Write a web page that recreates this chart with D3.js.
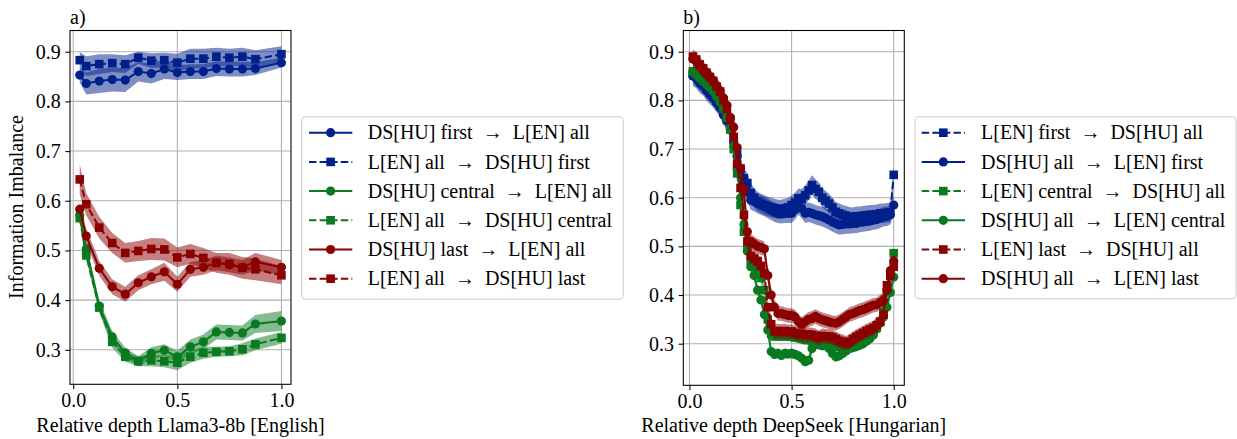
<!DOCTYPE html>
<html>
<head>
<meta charset="utf-8">
<script src="https://cdn.jsdelivr.net/npm/d3@7"></script>
<style>
  body { margin: 0; background: #fff; }
  text { font-family: "Liberation Serif", "Times New Roman", serif; fill: #000; }
</style>
</head>
<body>
<svg id="chart" width="1237" height="439"></svg>
<script>
// ---- data: panel a (Llama3-8b, English) ----
const layersA = [1, 2, 4, 6, 8, 10, 12, 14, 16, 18, 20, 22, 24, 26, 28, 32];
const nLayersA = 32;

const aBlueCirc = [0.853, 0.836, 0.841, 0.844, 0.843, 0.860, 0.856, 0.865, 0.858, 0.860, 0.860, 0.866, 0.865, 0.865, 0.866, 0.878];
const aBlueCircSd = [0.015, 0.022, 0.024, 0.024, 0.024, 0.02, 0.02, 0.02, 0.015, 0.015, 0.015, 0.015, 0.015, 0.015, 0.013, 0.01];
const aBlueSq = [0.883, 0.871, 0.875, 0.877, 0.875, 0.888, 0.882, 0.883, 0.878, 0.886, 0.886, 0.890, 0.888, 0.890, 0.885, 0.895];
const aBlueSqSd = [0.016, 0.02, 0.02, 0.018, 0.018, 0.012, 0.015, 0.015, 0.018, 0.02, 0.02, 0.018, 0.018, 0.018, 0.018, 0.016];
const aGreenCirc = [0.571, 0.503, 0.388, 0.326, 0.294, 0.277, 0.293, 0.299, 0.286, 0.306, 0.316, 0.336, 0.335, 0.334, 0.352, 0.358];
const aGreenCircSd = [0.01, 0.01, 0.012, 0.012, 0.01, 0.01, 0.012, 0.012, 0.012, 0.015, 0.015, 0.015, 0.015, 0.015, 0.018, 0.02];
const aGreenSq = [0.565, 0.490, 0.385, 0.316, 0.286, 0.277, 0.279, 0.277, 0.274, 0.286, 0.294, 0.296, 0.297, 0.301, 0.311, 0.324];
const aGreenSqSd = [0.01, 0.01, 0.01, 0.012, 0.01, 0.01, 0.012, 0.012, 0.015, 0.012, 0.012, 0.01, 0.01, 0.012, 0.012, 0.012];
const aRedCirc = [0.583, 0.529, 0.464, 0.427, 0.412, 0.435, 0.447, 0.457, 0.432, 0.462, 0.466, 0.475, 0.471, 0.466, 0.477, 0.466];
const aRedCircSd = [0.01, 0.015, 0.015, 0.015, 0.015, 0.015, 0.015, 0.018, 0.015, 0.015, 0.015, 0.015, 0.015, 0.015, 0.018, 0.015];
const aRedSq = [0.643, 0.593, 0.546, 0.515, 0.495, 0.499, 0.503, 0.502, 0.486, 0.493, 0.485, 0.475, 0.473, 0.465, 0.462, 0.450];
const aRedSqSd = [0.03, 0.022, 0.022, 0.02, 0.02, 0.02, 0.022, 0.022, 0.02, 0.02, 0.02, 0.02, 0.022, 0.022, 0.022, 0.018];

// ---- data: panel b (DeepSeek, Hungarian), layers 1..60 ----
const nLayersB = 60;
const bBlueSq = [0.855, 0.850, 0.840, 0.835, 0.825, 0.818, 0.808, 0.800, 0.790, 0.775,
  0.760, 0.745, 0.718, 0.690, 0.660, 0.640, 0.630, 0.610, 0.600, 0.592,
  0.588, 0.585, 0.582, 0.580, 0.578, 0.576, 0.576, 0.578, 0.580, 0.585,
  0.590, 0.599, 0.598, 0.605, 0.615, 0.626, 0.618, 0.612, 0.600, 0.594,
  0.588, 0.580, 0.571, 0.568, 0.565, 0.563, 0.561, 0.560, 0.562, 0.562,
  0.563, 0.564, 0.565, 0.565, 0.566, 0.568, 0.568, 0.569, 0.570, 0.647];
const bBlueCirc = [0.850, 0.845, 0.835, 0.830, 0.820, 0.812, 0.805, 0.795, 0.785, 0.770,
  0.758, 0.740, 0.715, 0.685, 0.655, 0.630, 0.612, 0.595, 0.592, 0.588,
  0.585, 0.582, 0.578, 0.574, 0.570, 0.568, 0.567, 0.568, 0.568, 0.568,
  0.575, 0.585, 0.578, 0.568, 0.570, 0.568, 0.565, 0.563, 0.561, 0.558,
  0.554, 0.550, 0.547, 0.544, 0.545, 0.546, 0.546, 0.547, 0.547, 0.549,
  0.550, 0.551, 0.552, 0.554, 0.555, 0.558, 0.561, 0.562, 0.565, 0.585];
const bGreenSq = [0.860, 0.858, 0.850, 0.845, 0.838, 0.832, 0.822, 0.812, 0.800, 0.785,
  0.765, 0.740, 0.700, 0.650, 0.585, 0.530, 0.500, 0.470, 0.460, 0.450,
  0.435, 0.410, 0.350, 0.320, 0.315, 0.316, 0.315, 0.316, 0.315, 0.315,
  0.313, 0.312, 0.310, 0.308, 0.308, 0.306, 0.305, 0.303, 0.303, 0.303,
  0.302, 0.300, 0.296, 0.294, 0.292, 0.292, 0.292, 0.298, 0.303, 0.308,
  0.312, 0.316, 0.320, 0.325, 0.333, 0.345, 0.365, 0.405, 0.445, 0.486];
const bGreenCirc = [0.858, 0.852, 0.845, 0.840, 0.832, 0.826, 0.818, 0.808, 0.796, 0.782,
  0.765, 0.742, 0.705, 0.660, 0.600, 0.545, 0.490, 0.458, 0.440, 0.410,
  0.390, 0.360, 0.328, 0.284, 0.278, 0.280, 0.276, 0.280, 0.279, 0.280,
  0.278, 0.275, 0.270, 0.263, 0.266, 0.290, 0.300, 0.298, 0.296, 0.297,
  0.290, 0.280, 0.273, 0.275, 0.280, 0.285, 0.290, 0.292, 0.294, 0.297,
  0.300, 0.305, 0.310, 0.318, 0.330, 0.342, 0.355, 0.375, 0.405, 0.437];
const bRedSq = [0.890, 0.884, 0.874, 0.866, 0.857, 0.848, 0.840, 0.828, 0.818, 0.800,
  0.782, 0.760, 0.725, 0.670, 0.620, 0.565, 0.510, 0.480, 0.475, 0.470,
  0.460, 0.445, 0.375, 0.340, 0.325, 0.326, 0.325, 0.326, 0.324, 0.325,
  0.322, 0.320, 0.320, 0.318, 0.319, 0.318, 0.316, 0.312, 0.316, 0.315,
  0.315, 0.313, 0.310, 0.306, 0.304, 0.301, 0.304, 0.310, 0.314, 0.318,
  0.322, 0.326, 0.329, 0.332, 0.338, 0.345, 0.360, 0.420, 0.440, 0.458];
const bRedCirc = [0.885, 0.880, 0.870, 0.862, 0.855, 0.848, 0.840, 0.830, 0.820, 0.805,
  0.790, 0.765, 0.745, 0.703, 0.660, 0.615, 0.530, 0.510, 0.505, 0.500,
  0.498, 0.495, 0.440, 0.400, 0.375, 0.362, 0.362, 0.360, 0.358, 0.358,
  0.355, 0.345, 0.340, 0.345, 0.350, 0.352, 0.356, 0.352, 0.349, 0.347,
  0.345, 0.343, 0.342, 0.345, 0.350, 0.355, 0.360, 0.362, 0.365, 0.368,
  0.370, 0.373, 0.376, 0.379, 0.380, 0.385, 0.390, 0.410, 0.450, 0.470];
const bBlueSd = 0.02, bGreenSd = 0.01, bRedSd = 0.015;

const yTicks = [0.3, 0.4, 0.5, 0.6, 0.7, 0.8, 0.9];
const xTicks = [0.0, 0.5, 1.0];

const BLUE = "#00208c", GREEN = "#0a7a20", RED = "#8b0000";
const ARROW = "\u2002\u2192\u2002";

const depthA = layersA.map(l => l / nLayersA);
const depthB = d3.range(1, nLayersB + 1).map(l => l / nLayersB);

function series(from, to, xs, ys, sd, color, marker, dashed) {
  const sds = Array.isArray(sd) ? sd : ys.map(() => sd);
  return { label: from + ARROW + to, color, marker, dashed,
    pts: xs.map((x, i) => ({ x, y: ys[i], sd: sds[i] })) };
}

const panelA = {
  tag: "a)", xlabel: "Relative depth Llama3-8b [English]",
  left: 70, right: 291, top: 30.5, bottom: 384.3,
  xdom: [-0.0155, 1.046], ydom: [0.2306, 0.9427],
  legend: { x: 301.7, y: 116.7, w: 321.6, h: 182.6, hx: 309, tx: 367.7 },
  series: [
    series("DS[HU] first", "L[EN] all", depthA, aBlueCirc, aBlueCircSd, BLUE, "circle", false),
    series("L[EN] all", "DS[HU] first", depthA, aBlueSq, aBlueSqSd, BLUE, "square", true),
    series("DS[HU] central", "L[EN] all", depthA, aGreenCirc, aGreenCircSd, GREEN, "circle", false),
    series("L[EN] all", "DS[HU] central", depthA, aGreenSq, aGreenSqSd, GREEN, "square", true),
    series("DS[HU] last", "L[EN] all", depthA, aRedCirc, aRedCircSd, RED, "circle", false),
    series("L[EN] all", "DS[HU] last", depthA, aRedSq, aRedSqSd, RED, "square", true)
  ]
};

const panelB = {
  tag: "b)", xlabel: "Relative depth DeepSeek [Hungarian]",
  left: 683.3, right: 904.3, top: 30.5, bottom: 385.3,
  xdom: [-0.0303, 1.0518], ydom: [0.2145, 0.9436],
  legend: { x: 915, y: 116.7, w: 321, h: 182, hx: 921.7, tx: 981 },
  series: [
    series("L[EN] first", "DS[HU] all", depthB, bBlueSq, bBlueSd, BLUE, "square", true),
    series("DS[HU] all", "L[EN] first", depthB, bBlueCirc, bBlueSd, BLUE, "circle", false),
    series("L[EN] central", "DS[HU] all", depthB, bGreenSq, bGreenSd, GREEN, "square", true),
    series("DS[HU] all", "L[EN] central", depthB, bGreenCirc, bGreenSd, GREEN, "circle", false),
    series("L[EN] last", "DS[HU] all", depthB, bRedSq, bRedSd, RED, "square", true),
    series("DS[HU] all", "L[EN] last", depthB, bRedCirc, bRedSd, RED, "circle", false)
  ]
};

const svg = d3.select("#chart");
const FS = 20;

function drawMarker(g, kind, x, y, color) {
  if (kind === "circle") {
    g.append("circle").attr("cx", x).attr("cy", y).attr("r", 4.6).attr("fill", color);
  } else {
    g.append("rect").attr("x", x - 4.3).attr("y", y - 4.3)
      .attr("width", 8.6).attr("height", 8.6).attr("fill", color);
  }
}

function drawPanel(p, idx) {
  const x = d3.scaleLinear().domain(p.xdom).range([p.left, p.right]);
  const y = d3.scaleLinear().domain(p.ydom).range([p.bottom, p.top]);

  const clipId = "clip" + idx;
  svg.append("clipPath").attr("id", clipId)
    .append("rect").attr("x", p.left).attr("y", p.top)
    .attr("width", p.right - p.left).attr("height", p.bottom - p.top);

  // grid
  const grid = svg.append("g").attr("stroke", "#b0b0b0").attr("stroke-width", 1.07);
  grid.selectAll(".gx").data(xTicks).join("line")
    .attr("x1", d => x(d)).attr("x2", d => x(d)).attr("y1", p.top).attr("y2", p.bottom);
  grid.selectAll(".gy").data(yTicks).join("line")
    .attr("x1", p.left).attr("x2", p.right).attr("y1", d => y(d)).attr("y2", d => y(d));

  const plot = svg.append("g").attr("clip-path", `url(#${clipId})`);
  const line = d3.line().x(d => x(d.x)).y(d => y(d.y));
  const area = d3.area().x(d => x(d.x)).y0(d => y(d.y - d.sd)).y1(d => y(d.y + d.sd));

  p.series.forEach(s => {
    plot.append("path").datum(s.pts).attr("d", area)
      .attr("fill", s.color).attr("fill-opacity", 0.5).attr("stroke", "none");
    plot.append("path").datum(s.pts).attr("d", line)
      .attr("fill", "none").attr("stroke", s.color).attr("stroke-width", 2)
      .attr("stroke-dasharray", s.dashed ? "7.4,3.2" : null);
    const mg = plot.append("g");
    s.pts.forEach(d => drawMarker(mg, s.marker, x(d.x), y(d.y), s.color));
  });

  // axes
  const ya = svg.append("g").attr("transform", `translate(${p.left},0)`)
    .call(d3.axisLeft(y).tickValues(yTicks).tickFormat(d3.format(".1f")).tickSize(4.7).tickPadding(4.5));
  const xa = svg.append("g").attr("transform", `translate(0,${p.bottom})`)
    .call(d3.axisBottom(x).tickValues(xTicks).tickFormat(d3.format(".1f")).tickSize(4.7).tickPadding(4));
  [ya, xa].forEach(a => {
    a.select(".domain").remove();
    a.selectAll("line").attr("stroke", "#000").attr("stroke-width", 1.07);
    a.selectAll("text").attr("font-size", FS).attr("font-family", "Liberation Serif").attr("fill", "#000");
  });

  // spines
  svg.append("rect").attr("x", p.left).attr("y", p.top)
    .attr("width", p.right - p.left).attr("height", p.bottom - p.top)
    .attr("fill", "none").attr("stroke", "#000").attr("stroke-width", 1.07);

  svg.append("text").attr("x", p.left).attr("y", 24).attr("font-size", FS).text(p.tag);
  svg.append("text").attr("x", (p.left + p.right) / 2).attr("y", 432)
    .attr("text-anchor", "middle").attr("font-size", FS).text(p.xlabel);

  // legend
  const L = p.legend;
  const lg = svg.append("g");
  lg.append("rect").attr("x", L.x).attr("y", L.y).attr("width", L.w).attr("height", L.h)
    .attr("rx", 4).attr("fill", "#fff").attr("fill-opacity", 0.8)
    .attr("stroke", "#cccccc").attr("stroke-width", 1.07);
  p.series.forEach((s, i) => {
    const cy = L.y + 16 + i * 29.2;
    lg.append("line").attr("x1", L.hx).attr("x2", L.hx + 43.3).attr("y1", cy).attr("y2", cy)
      .attr("stroke", s.color).attr("stroke-width", 2)
      .attr("stroke-dasharray", s.dashed ? "7.4,3.2" : null);
    drawMarker(lg, s.marker, L.hx + 21.6, cy, s.color);
    lg.append("text").attr("x", L.tx).attr("y", cy).attr("dy", "0.33em")
      .attr("font-size", FS).text(s.label);
  });
}

drawPanel(panelA, 0);
drawPanel(panelB, 1);

svg.append("text").attr("transform", "translate(23,207) rotate(-90)")
  .attr("text-anchor", "middle").attr("font-size", FS).text("Information Imbalance");
</script>
</body>
</html>
